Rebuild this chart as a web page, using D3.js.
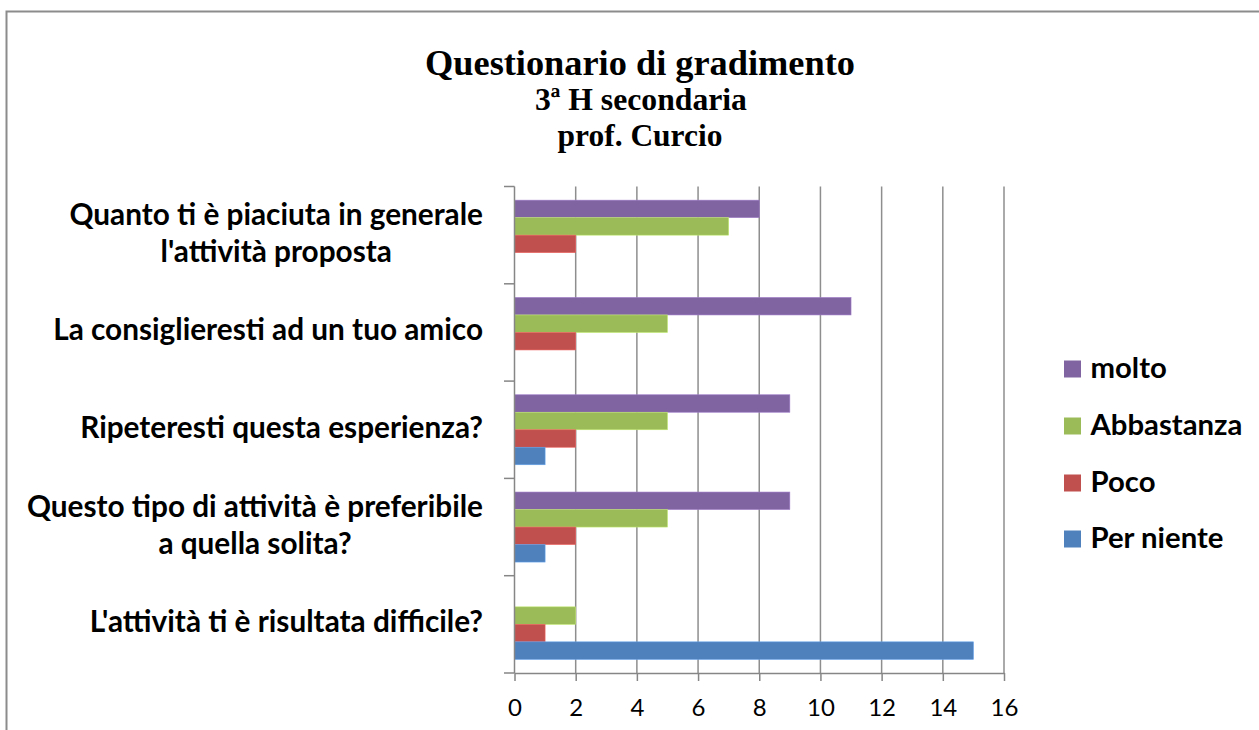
<!DOCTYPE html>
<html><head><meta charset="utf-8">
<script src="https://cdn.jsdelivr.net/npm/d3@7/dist/d3.min.js"></script>
<style>html,body{margin:0;padding:0;background:#fff;overflow:hidden}</style>
</head><body>
<svg id="c" width="1259" height="730"></svg>
<script>
const categories = [
  ["Quanto ti è piaciuta in generale", "l'attività proposta"],
  ["La consiglieresti ad un tuo amico"],
  ["Ripeteresti questa esperienza?"],
  ["Questo tipo di attività è preferibile", "a quella solita?"],
  ["L'attività ti è risultata difficile?"]
];
const seriesNames = ["molto", "Abbastanza", "Poco", "Per niente"];
const molto      = [8, 11, 9, 9, 0];
const abbastanza = [7, 5, 5, 5, 2];
const poco       = [2, 2, 2, 2, 1];
const perNiente  = [0, 0, 1, 1, 15];
const xTicks = [0, 2, 4, 6, 8, 10, 12, 14, 16];
const colors = ["#8064A2", "#9BBB59", "#C0504D", "#4F81BD"];
const titleLines = ["Questionario di gradimento", "3ª H secondaria", "prof. Curcio"];

const values = [molto, abbastanza, poco, perNiente];
const svg = d3.select("#c");
const sans = "Lato, 'Noto Sans', sans-serif";
const serif = "'Liberation Serif', 'Times New Roman', serif";

function fit(sel, target) {
  const w = sel.node().getComputedTextLength();
  const fs = parseFloat(sel.attr("font-size"));
  sel.attr("font-size", (fs * target / w).toFixed(2));
}

// outer border
svg.append("rect").attr("x", 6.5).attr("y", 11.5).attr("width", 1300).attr("height", 800)
  .attr("fill", "none").attr("stroke", "#8c8c8c").attr("stroke-width", 2);

// title
const t1 = svg.append("text").attr("x", 640).attr("y", 75).attr("text-anchor", "middle")
  .attr("font-family", serif).attr("font-weight", "bold").attr("font-size", 38).text(titleLines[0]);
fit(t1, 430);
const t2 = svg.append("text").attr("x", 641).attr("y", 110).attr("text-anchor", "middle")
  .attr("font-family", serif).attr("font-weight", "bold").attr("font-size", 28).text(titleLines[1]);
fit(t2, 212);
const t3 = svg.append("text").attr("x", 640).attr("y", 146).attr("text-anchor", "middle")
  .attr("font-family", serif).attr("font-weight", "bold").attr("font-size", 28).text(titleLines[2]);
fit(t3, 165);

// scales
const x = d3.scaleLinear().domain([0, 16]).range([514.5, 1004]);
const y = d3.scaleBand().domain(d3.range(categories.length)).range([186.5, 673]).paddingInner(0).paddingOuter(0);
const ys = d3.scaleBand().domain(seriesNames).range([0, y.bandwidth()]).paddingInner(0).paddingOuter(0.78);

// grid
svg.append("g").selectAll("line").data(xTicks.slice(1)).join("line")
  .attr("x1", d => x(d)).attr("x2", d => x(d)).attr("y1", 186.5).attr("y2", 673)
  .attr("stroke", "#8e8e8e").attr("stroke-width", 1.5);

// bars
const gBars = svg.append("g");
seriesNames.forEach((s, si) => {
  gBars.append("g").selectAll("rect").data(values[si]).join("rect")
    .attr("x", x(0)).attr("y", (d, i) => y(i) + ys(s))
    .attr("width", d => x(d) - x(0)).attr("height", ys.bandwidth())
    .attr("fill", colors[si])
    .attr("stroke", d3.color(colors[si]).brighter(0.6)).attr("stroke-width", 0.6);
});

// axes
const axisColor = "#868686";
const yAxisG = svg.append("g");
yAxisG.append("line").attr("x1", x(0)).attr("x2", x(0)).attr("y1", 186.5).attr("y2", 673)
  .attr("stroke", axisColor).attr("stroke-width", 1.5);
yAxisG.selectAll("line.t").data(d3.range(categories.length + 1)).join("line").attr("class", "t")
  .attr("x1", 504).attr("x2", x(0))
  .attr("y1", i => i < categories.length ? y(i) : 673).attr("y2", i => i < categories.length ? y(i) : 673)
  .attr("stroke", axisColor).attr("stroke-width", 1.5);

const xAxis = d3.axisBottom(x).tickValues(xTicks).tickSize(8).tickPadding(18).tickSizeOuter(0);
const xg = svg.append("g").attr("transform", "translate(0,673)").call(xAxis);
xg.select(".domain").attr("stroke", axisColor).attr("stroke-width", 1.5);
xg.selectAll(".tick line").attr("stroke", axisColor).attr("stroke-width", 1.5);
xg.selectAll(".tick text").attr("font-family", sans).attr("font-size", 24).attr("fill", "#000")
  .attr("dy", null).attr("y", 43);

// category labels
const labG = svg.append("g").attr("font-family", sans).attr("font-weight", "bold").attr("font-size", 26).attr("fill", "#000");
const groups = [];
categories.forEach((lines, i) => {
  const c = y(i) + y.bandwidth() / 2;
  const lh = 37;
  const texts = lines.map((ln, li) => {
    const off = (li - (lines.length - 1) / 2) * lh;
    return labG.append("text").attr("y", c + off + 8).attr("text-anchor", "middle").text(ln);
  });
  groups.push(texts);
});
{
  const ref = groups[1][0];
  const w = ref.node().getComputedTextLength();
  labG.attr("font-size", (26 * 430 / w).toFixed(2));
  groups.forEach(texts => {
    const maxW = d3.max(texts, t => t.node().getComputedTextLength());
    texts.forEach(t => t.attr("x", 483 - maxW / 2));
  });
}

// legend
const legY = [369, 426, 483, 539];
const legG = svg.append("g");
seriesNames.forEach((s, si) => {
  legG.append("rect").attr("x", 1064).attr("y", legY[si] - 8.5).attr("width", 17).attr("height", 17).attr("fill", colors[si]);
});
const legTexts = legG.append("g").attr("font-family", sans).attr("font-weight", "bold").attr("font-size", 28);
const lt = seriesNames.map((s, si) => legTexts.append("text").attr("x", 1090.5).attr("y", legY[si] + 9).text(s));
{
  const w = lt[1].node().getComputedTextLength();
  legTexts.attr("font-size", (28 * 152 / w).toFixed(2));
}
</script>
</body></html>
